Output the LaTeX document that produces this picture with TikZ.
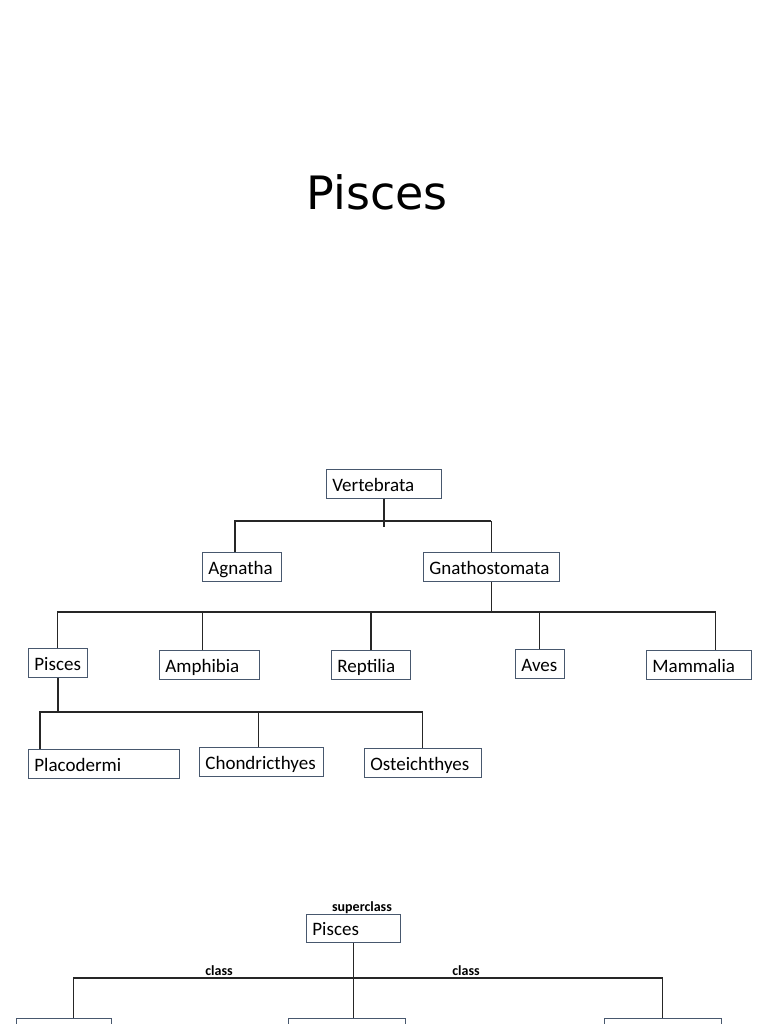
\documentclass[tikz,border=0pt]{standalone}
\usepackage{fontspec}
\setmainfont{Carlito}
\newfontfamily\fonteTitulo{DejaVu Sans}
\usepackage{tikz}
\usetikzlibrary{positioning}
\definecolor{borda}{RGB}{72,88,110}
\tikzset{
    caixa/.style={
        rectangle,
        draw=borda,
        line width=0.8pt,
        anchor=north west,
        align=left,
        text width=#1,
        minimum height=29pt,
        inner xsep=6pt,
        inner ysep=0pt,
        text height=16pt,
        text depth=1pt,
        font=\fontsize{19}{21}\selectfont
    },
    ligacao/.style={draw=black!85, line width=1.1pt},
    ligacaoForte/.style={ligacao, line width=2pt},
    rotulo/.style={anchor=base, font=\fontsize{14}{16}\selectfont\bfseries},
    titulo/.style={anchor=base, font=\fonteTitulo\fontsize{46}{50}\selectfont}
}

\begin{document}
\begin{tikzpicture}[x=1pt, y=-1pt]
    \useasboundingbox (0,0) rectangle (768,1024);
    \clip (0,0) rectangle (768,1024);

    \node[titulo] (titulo) at (377,210) {Pisces};

    \node[caixa=103pt] (vert) at (326,469) {Vertebrata};
    \node[caixa=67pt] (agn) at (202,552) {Agnatha};
    \node[caixa=124pt] (gna) at (423,552) {Gnathostomata};

    \node[caixa=47pt] (pis) at (28,648) {Pisces};
    \node[caixa=88pt] (amp) at (159,650) {Amphibia};
    \node[caixa=67pt] (rep) at (331,650) {Reptilia};
    \node[caixa=37pt] (ave) at (515,649) {Aves};
    \node[caixa=93pt] (mam) at (646,650) {Mammalia};

    \node[caixa=139pt] (plac) at (28,749) {Placodermi};
    \node[caixa=112pt] (chon) at (199,747) {Chondricthyes};
    \node[caixa=105pt] (oste) at (364,748) {Osteichthyes};

    \node[caixa=82pt, minimum height=28pt] (pis2) at (306,914) {Pisces};
    \node[caixa=83pt] (cls1) at (16,1018) {};
    \node[caixa=105pt] (cls2) at (288,1018) {};
    \node[caixa=105pt] (cls3) at (604,1018) {};

    \node[rotulo] (superclasse) at (362,911) {superclass};
    \node[rotulo] (classeEsq) at (219,975) {class};
    \node[rotulo] (classeDir) at (466,975) {class};

    \coordinate (barraVert) at (0,521);
    \coordinate (barraGna) at (0,612);
    \coordinate (barraPis) at (0,712);
    \coordinate (barraSup) at (0,978);

    \draw[ligacaoForte] (vert.south) -- ++(0,28);
    \draw[ligacaoForte] ([xshift=-6.5pt]agn.north) |- (gna.north |- barraVert);
    \draw[ligacao] (gna.north |- barraVert) -- (gna.north);

    \draw[ligacao] (gna.south) -- (gna.south |- barraGna);
    \draw[ligacao] (pis.north) |- ([xshift=16.5pt]mam.north |- barraGna) -- ([xshift=16.5pt]mam.north);
    \draw[ligacao] ([xshift=-7pt]amp.north) -- ([xshift=-7pt]amp.north |- barraGna);
    \draw[ligacaoForte] (rep.north) -- (rep.north |- barraGna);
    \draw[ligacao] (ave.north) -- (ave.north |- barraGna);

    \draw[ligacaoForte] (pis.south) -- ++(0,35);
    \draw[ligacao] ([xshift=12pt]plac.north west) |- (oste.north |- barraPis) -- (oste.north);
    \draw[ligacao] ([xshift=-3pt]chon.north) -- ([xshift=-3pt]chon.north |- barraPis);

    \draw[ligacao] (pis2.south) -- (pis2.south |- cls2.north);
    \draw[ligacao] ([xshift=9.5pt]cls1.north) |- (cls3.north |- barraSup) -- (cls3.north);
\end{tikzpicture}
\end{document}
